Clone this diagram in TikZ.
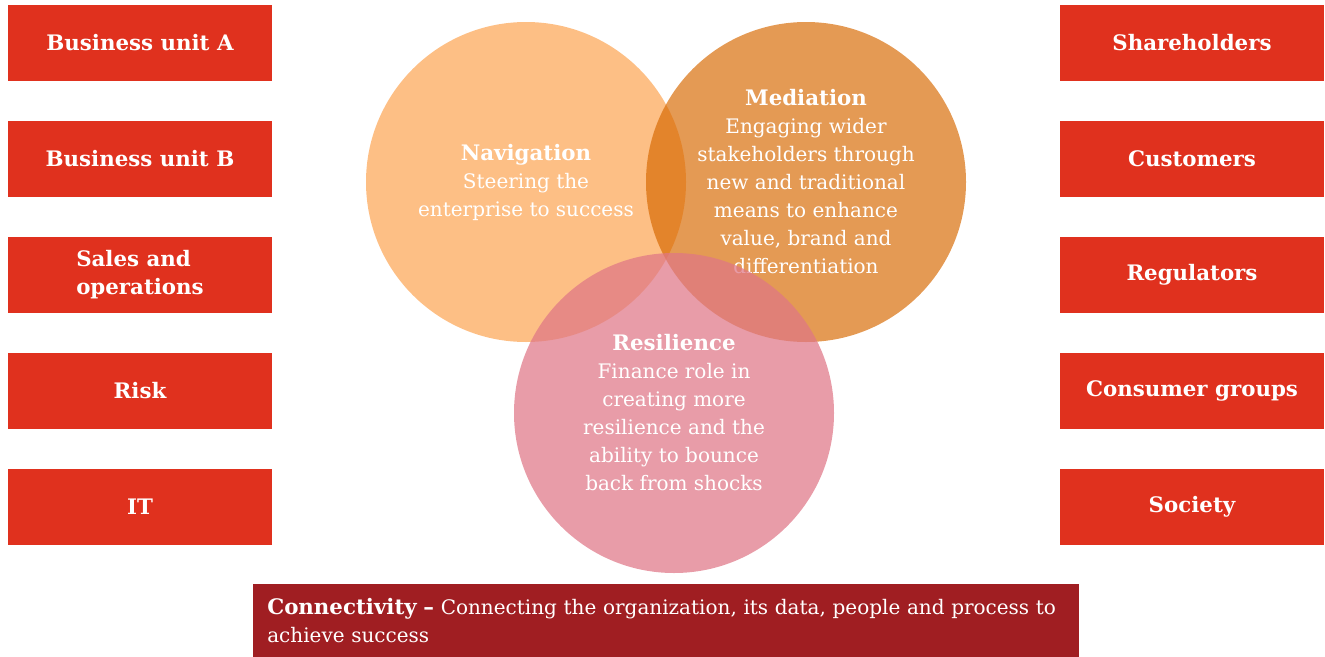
\documentclass[tikz,border=0pt]{standalone}
\usepackage{fontspec}
\setmainfont{DejaVu Serif}
\definecolor{boxred}{RGB}{224,49,30}
\definecolor{darkred}{RGB}{160,30,34}
\definecolor{navcol}{RGB}{253,191,133}
\definecolor{medcol}{RGB}{215,104,0}
\definecolor{rescol}{RGB}{223,118,134}
\newcommand{\bd}[1]{{\fontsize{16}{21}\selectfont\bfseries #1}}
\tikzset{
  unitbox/.style={fill=boxred, text=white, inner sep=0pt, minimum width=198pt, minimum height=57pt,
    align=center, font=\bfseries\fontsize{16}{21}\selectfont},
  venn/.style={circle, inner sep=0pt, minimum size=240pt, text=white, align=center,
    font=\fontsize{15}{21}\selectfont},
}
\begin{document}
\begin{tikzpicture}[x=0.75pt,y=-0.75pt]
\useasboundingbox (0,0) rectangle (1325,657);
% left boxes
\node[unitbox] (bua) at (140,43) {Business unit A};
\node[unitbox] (bub) at (140,159) {Business unit B};
\node[unitbox] (sal) at (140,275) {\begin{tabular}{@{}l@{}}Sales and\\operations\end{tabular}};
\node[unitbox] (risk) at (140,391) {Risk};
\node[unitbox] (it) at (140,507) {IT};
% right boxes
\node[unitbox] (sh) at (1192,43) {Shareholders};
\node[unitbox] (cu) at (1192,159) {Customers};
\node[unitbox] (re) at (1192,275) {Regulators};
\node[unitbox] (cg) at (1192,391) {Consumer groups};
\node[unitbox] (so) at (1192,507) {Society};
% venn circles
\node[venn, fill=navcol] (nav) at (526,182) {\bd{Navigation}\\Steering the\\enterprise to success};
\node[venn, fill=medcol, fill opacity=0.67, text opacity=1] (med) at (806,182)
  {\bd{Mediation}\\Engaging wider\\stakeholders through\\new and traditional\\means to enhance\\value, brand and\\differentiation};
\node[venn, fill=rescol, fill opacity=0.72, text opacity=1] (res) at (674,413)
  {\bd{Resilience}\\Finance role in\\creating more\\resilience and the\\ability to bounce\\back from shocks};
% bottom bar
\node[fill=darkred, text=white, anchor=north west, minimum width=619.5pt, minimum height=54.75pt,
  text width=598.5pt, inner xsep=10.5pt, inner ysep=0pt, align=left, font=\fontsize{15}{21}\selectfont]
  (conn) at (253,584) {\bd{Connectivity –} Connecting the organization, its data, people and process to\\achieve success};
\end{tikzpicture}
\end{document}
